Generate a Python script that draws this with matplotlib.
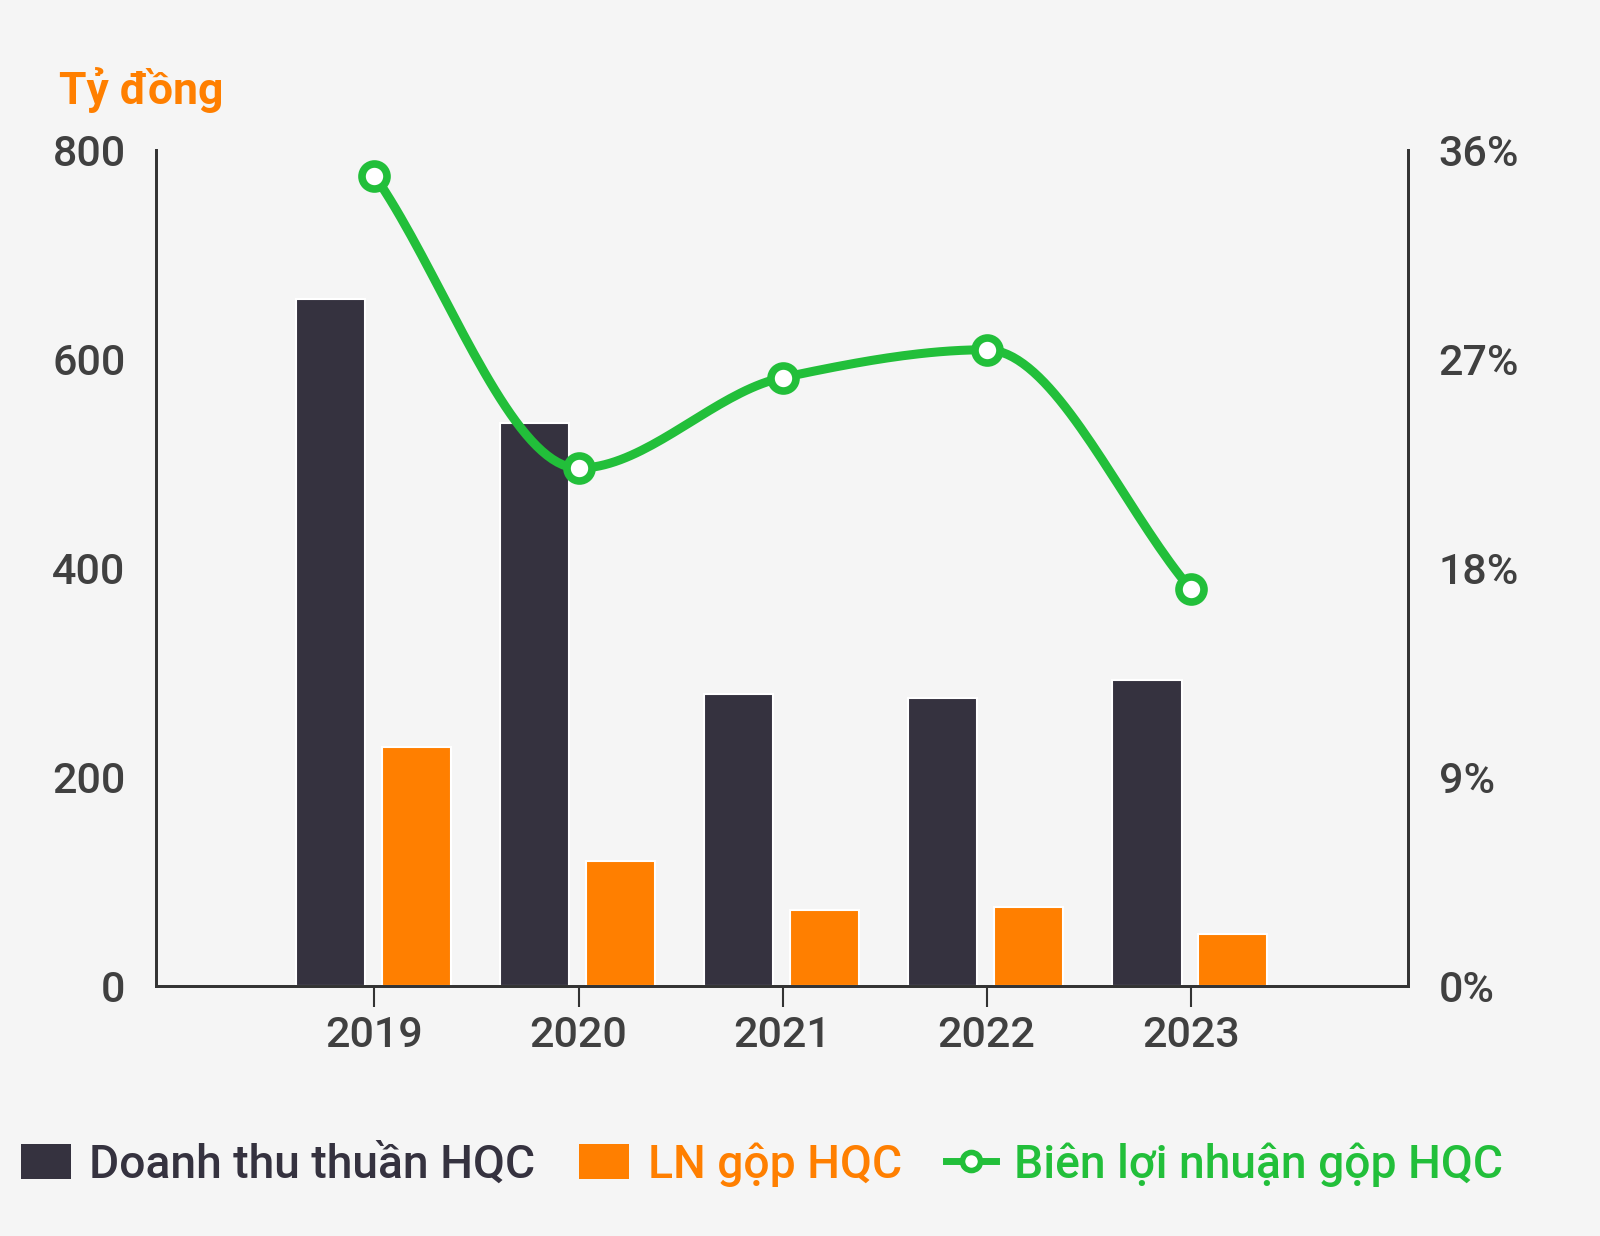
import numpy as np
import matplotlib.pyplot as plt
from matplotlib.lines import Line2D
from matplotlib.patches import Patch

plt.rcParams['font.family'] = ['Roboto', 'DejaVu Sans']

years = ['2019', '2020', '2021', '2022', '2023']
doanh_thu = [657, 539, 279, 276, 293]      # Doanh thu thuần HQC (tỷ đồng)
ln_gop = [229, 120, 73, 76, 50]            # LN gộp HQC (tỷ đồng)
bien_ln = [34.9, 22.3, 26.2, 27.4, 17.1]   # Biên lợi nhuận gộp HQC (%)

bg = '#f5f5f5'
dark = '#35323f'
orange = '#ff7f00'
green = '#22bf3a'
grey = '#404040'


def monotone_curve(x, y, n=40):
    # smooth monotone cubic (Fritsch-Carlson) through the data points, only for drawing
    x = np.asarray(x, float)
    y = np.asarray(y, float)
    h = np.diff(x)
    d = np.diff(y) / h
    m = np.zeros_like(y)
    m[0], m[-1] = d[0], d[-1]
    for i in range(1, len(y) - 1):
        if d[i - 1] * d[i] > 0:
            m[i] = 2 / (1 / d[i - 1] + 1 / d[i])
    xs, ys = [], []
    for i in range(len(h)):
        t = np.linspace(0, 1, n)
        h00 = 2 * t**3 - 3 * t**2 + 1
        h10 = t**3 - 2 * t**2 + t
        h01 = -2 * t**3 + 3 * t**2
        h11 = t**3 - t**2
        xs.append(x[i] + t * h[i])
        ys.append(h00 * y[i] + h10 * h[i] * m[i] + h01 * y[i + 1] + h11 * h[i] * m[i + 1])
    return np.concatenate(xs), np.concatenate(ys)


fig = plt.figure(figsize=(16, 12.36), dpi=100, facecolor=bg)
ax = fig.add_axes([0.0976, 0.2023, 0.7824, 0.6763])
ax.set_facecolor(bg)
ax2 = ax.twinx()

x = np.arange(len(years))
w = 0.34
ax.bar(x - 0.215, doanh_thu, w, color=dark, edgecolor='white', linewidth=1.5, zorder=2)
ax.bar(x + 0.205, ln_gop, w, color=orange, edgecolor='white', linewidth=1.5, zorder=2)

ax.set_xlim(-1.07, len(years) - 1 + 1.065)
ax.set_ylim(0, 800)
ax.set_yticks([0, 200, 400, 600, 800])
ax.set_xticks(x)
ax.set_xticklabels(years)

ax2.set_ylim(0, 36)
ax2.set_yticks([0, 9, 18, 27, 36])
ax2.set_yticklabels([f'{v}%' for v in [0, 9, 18, 27, 36]])

sx, sy = monotone_curve(x, bien_ln)
ax2.plot(sx, sy, color=green, lw=6.5, solid_capstyle='round', zorder=3)
ax2.plot(x, bien_ln, 'o', ms=18, mfc='white', mec=green, mew=5.5, zorder=4)

for a in (ax, ax2):
    a.spines['top'].set_visible(False)
    for s in ('left', 'right', 'bottom'):
        a.spines[s].set_color('#333333')
        a.spines[s].set_linewidth(2)

for a in (ax, ax2):
    a.tick_params(axis='y', length=0, pad=22, labelsize=31, labelcolor=grey)
    for lab in a.get_yticklabels():
        lab.set_fontweight('medium')
ax.tick_params(axis='x', length=15, width=1.5, color='#333333', pad=6,
               labelsize=31, labelcolor=grey)
for lab in ax.get_xticklabels():
    lab.set_fontweight('medium')

fig.text(0.037, 0.916, 'Tỷ đồng', color=orange, fontsize=32, fontweight='bold')

handles = [
    Patch(facecolor=dark, edgecolor='none'),
    Patch(facecolor=orange, edgecolor='none'),
    Line2D([0], [0], color=green, lw=5, marker='o', ms=13, mfc='white', mec=green, mew=4),
]
labels = ['Doanh thu thuần HQC', 'LN gộp HQC', 'Biên lợi nhuận gộp HQC']
leg = fig.legend(handles, labels, loc='lower left', bbox_to_anchor=(-0.013, 0.006),
                 ncol=3, frameon=False, handlelength=1.08, handleheight=0.78,
                 handletextpad=0.4, columnspacing=0.95,
                 prop={'size': 33.3, 'weight': 'medium'})
for t, c in zip(leg.get_texts(), [dark, orange, green]):
    t.set_color(c)

fig.savefig('out.png', dpi=100, facecolor=bg)
